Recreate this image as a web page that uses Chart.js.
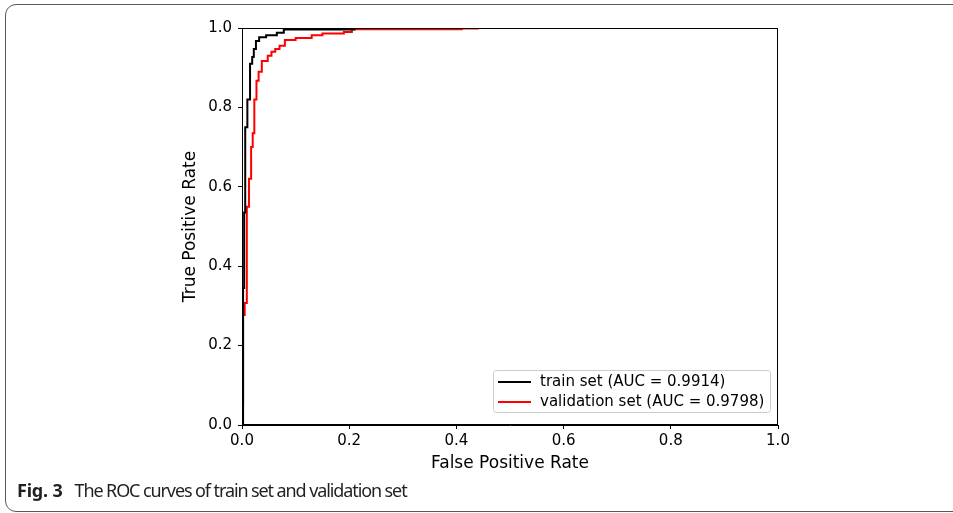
<!DOCTYPE html>
<html>
<head>
<meta charset="utf-8">
<script src="https://cdn.jsdelivr.net/npm/chart.js@4/dist/chart.umd.min.js"></script>
<style>
  body { margin: 0; background: #fff; }
  #wrap { position: relative; width: 953px; height: 513px; overflow: hidden; }
  #frame { position: absolute; left: 5px; top: 4px; width: 1100px; height: 506px;
           border: 1.5px solid #5a5a5a; border-radius: 11px; }
  #caption { position: absolute; left: 17px; top: 478px; font-family: "Noto Sans", sans-serif;
             font-size: 18px; color: #231f20; white-space: nowrap; }
  #caption b { letter-spacing: -0.2px; }
  #caption span { letter-spacing: -1.1px; margin-left: 12px; }
  canvas { position: absolute; left: 0; top: 0; }
</style>
</head>
<body>
<div id="wrap">
  <div id="frame"></div>
  <canvas id="roc" width="953" height="513"></canvas>
  <div id="caption"><b>Fig. 3</b><span>The ROC curves of train set and validation set</span></div>
</div>
<script>
const xTicks = [0, 0.2, 0.4, 0.6, 0.8, 1.0];
const yTicks = [0, 0.2, 0.4, 0.6, 0.8, 1.0];

const trainLabel = 'train set (AUC = 0.9914)';
const trainFpr = [0, 0.002, 0.002, 0.004, 0.004, 0.006, 0.006, 0.010, 0.010, 0.015, 0.015, 0.019, 0.019, 0.022, 0.022, 0.026, 0.026, 0.032, 0.032, 0.045, 0.045, 0.065, 0.065, 0.078, 0.078, 0.21, 0.21, 1.0];
const trainTpr = [0, 0, 0.345, 0.345, 0.535, 0.535, 0.75, 0.75, 0.82, 0.82, 0.91, 0.91, 0.927, 0.927, 0.947, 0.947, 0.967, 0.967, 0.977, 0.977, 0.982, 0.982, 0.988, 0.988, 0.996, 0.996, 1.0, 1.0];

const valLabel = 'validation set (AUC = 0.9798)';
const valFpr = [0, 0, 0.002, 0.002, 0.005, 0.005, 0.009, 0.009, 0.013, 0.013, 0.017, 0.017, 0.020, 0.020, 0.023, 0.023, 0.027, 0.027, 0.031, 0.031, 0.037, 0.037, 0.048, 0.048, 0.055, 0.055, 0.062, 0.062, 0.070, 0.070, 0.080, 0.080, 0.100, 0.100, 0.130, 0.130, 0.150, 0.150, 0.190, 0.190, 0.205, 0.205, 0.410, 0.410, 0.440, 0.440, 1.0];
const valTpr = [0, 0.05, 0.05, 0.277, 0.277, 0.307, 0.307, 0.55, 0.55, 0.62, 0.62, 0.70, 0.70, 0.735, 0.735, 0.82, 0.82, 0.867, 0.867, 0.89, 0.89, 0.917, 0.917, 0.93, 0.93, 0.94, 0.94, 0.947, 0.947, 0.955, 0.955, 0.97, 0.97, 0.975, 0.975, 0.982, 0.982, 0.986, 0.986, 0.99, 0.99, 0.997, 0.997, 0.999, 0.999, 1.0, 1.0];

const fuenteTicks = { family: 'DejaVu Sans', size: 15 };
const fuenteTitulo = { family: 'DejaVu Sans', size: 17 };

function pares(xs, ys) {
    return xs.map((x, i) => ({ x: x, y: ys[i] }));
}

// marco negro alrededor del area y leyenda dentro
const marcoYLeyenda = {
    id: 'marcoYLeyenda',
    afterDraw(chart) {
        const ctx = chart.ctx;
        const a = chart.chartArea;
        ctx.save();
        ctx.strokeStyle = '#000';
        ctx.lineWidth = 1;
        ctx.strokeRect(a.left + 0.5, a.top + 0.5, a.right - a.left - 1, a.bottom - a.top - 1);

        const bx = a.left + 251, by = a.bottom - 55, bw = 277, bh = 42;
        ctx.fillStyle = 'rgba(255,255,255,0.8)';
        ctx.strokeStyle = '#cccccc';
        ctx.beginPath();
        ctx.roundRect(bx + 0.5, by + 0.5, bw, bh, 3);
        ctx.fill();
        ctx.stroke();

        ctx.font = '15px "DejaVu Sans"';
        ctx.textBaseline = 'middle';
        chart.data.datasets.forEach((ds, i) => {
            const yy = by + 12 + i * 20;
            ctx.strokeStyle = ds.borderColor;
            ctx.lineWidth = 2;
            ctx.beginPath();
            ctx.moveTo(bx + 5, yy);
            ctx.lineTo(bx + 38, yy);
            ctx.stroke();
            ctx.fillStyle = '#000';
            ctx.fillText(ds.label, bx + 47, yy);
        });
        ctx.restore();
    }
};

const ejeComun = {
    type: 'linear',
    min: 0,
    max: 1,
    grid: { display: true, drawOnChartArea: false, drawTicks: true, tickLength: 4, color: '#000', lineWidth: 1 },
    border: { display: true, color: '#000', width: 1 },
};

new Chart(document.getElementById('roc'), {
    type: 'line',
    data: {
        datasets: [{
            label: trainLabel,
            data: pares(trainFpr, trainTpr),
            borderColor: '#000000',
            borderWidth: 2,
            pointRadius: 0,
            tension: 0,
            fill: false
        }, {
            label: valLabel,
            data: pares(valFpr, valTpr),
            borderColor: '#ff0000',
            borderWidth: 2,
            pointRadius: 0,
            tension: 0,
            fill: false
        }]
    },
    options: {
        responsive: false,
        animation: false,
        layout: { padding: { left: 180, right: 175, top: 28, bottom: 38 } },
        plugins: { legend: { display: false }, tooltip: { enabled: false } },
        scales: {
            x: Object.assign({}, ejeComun, {
                afterBuildTicks: (s) => { s.ticks = xTicks.map(v => ({ value: v })); },
                afterFit: (s) => { s.height = 50; },
                ticks: { color: '#000', font: fuenteTicks, padding: 3, maxRotation: 0, callback: (v) => v.toFixed(1) },
                title: { display: true, text: 'False Positive Rate', color: '#000', font: fuenteTitulo, padding: { top: 0, bottom: 1 } }
            }),
            y: Object.assign({}, ejeComun, {
                afterBuildTicks: (s) => { s.ticks = yTicks.map(v => ({ value: v })); },
                afterFit: (s) => { s.width = 62; },
                ticks: { color: '#000', font: fuenteTicks, padding: 6, callback: (v) => v.toFixed(1) },
                title: { display: true, text: 'True Positive Rate', color: '#000', font: fuenteTitulo, padding: { top: 0, bottom: 0 } }
            })
        }
    },
    plugins: [marcoYLeyenda]
});
</script>
</body>
</html>
